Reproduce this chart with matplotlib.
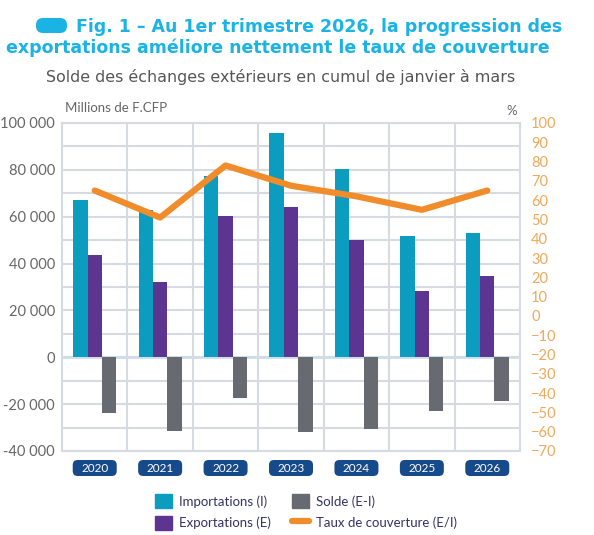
import numpy as np
import matplotlib.pyplot as plt
from matplotlib.patches import Patch, FancyBboxPatch
from matplotlib.lines import Line2D

plt.rcParams['font.family'] = ['Lato', 'DejaVu Sans']

# --- données ---
annees = ['2020', '2021', '2022', '2023', '2024', '2025', '2026']
importations = [67000, 62700, 77300, 95800, 80300, 51600, 53200]
exportations = [43500, 32000, 60200, 64200, 49900, 28500, 34500]
solde = [-23800, -31500, -17300, -32000, -30800, -22800, -18800]
taux = [65, 51, 78, 67.5, 62, 55, 65]

c_imp = '#0c9cbf'
c_exp = '#5c3590'
c_sol = '#676a71'
c_taux = '#f08c2a'
c_grid = '#d5dbe0'
c_titre = '#1bb3e3'
c_txt = '#666666'

fig = plt.figure(figsize=(5.94, 5.35), dpi=100)
ax = fig.add_axes([62/594, 1 - 451/535, 458/594, 328/535])

x = np.arange(len(annees))
w = 0.22
ax.bar(x - w, importations, w, color=c_imp, zorder=3)
ax.bar(x, exportations, w, color=c_exp, zorder=3)
ax.bar(x + w, solde, w, color=c_sol, zorder=3)

ax.set_xlim(-0.5, len(annees) - 0.5)
ax.set_ylim(-40000, 100000)
ax.set_yticks(np.arange(-40000, 100001, 20000))
ax.set_yticklabels([f'{v:,}'.replace(',', ' ') for v in range(-40000, 100001, 20000)])
ax.set_yticks(np.arange(-40000, 100001, 10000), minor=True)
ax.grid(True, axis='y', which='both', color=c_grid, lw=1.5, zorder=0)
for b in np.arange(0.5, len(annees) - 0.5, 1):
    ax.axvline(b, color=c_grid, lw=1.5, zorder=0)
ax.axhline(0, color='#cfdde6', lw=2, zorder=2)
ax.set_xticks([])
ax.tick_params(axis='y', which='both', length=0, labelsize=10.5, labelcolor=c_txt, pad=5)
for s in ax.spines.values():
    s.set_color(c_grid)
    s.set_linewidth(1.5)

ax2 = ax.twinx()
ax2.plot(x, taux, color=c_taux, lw=4.5, solid_capstyle='round', solid_joinstyle='round', zorder=4)
ax2.set_ylim(-70, 100)
ax2.set_yticks(np.arange(-70, 101, 10))
ax2.tick_params(axis='y', length=0, labelsize=10.5, labelcolor='#f0a85a', pad=8)
for s in ax2.spines.values():
    s.set_visible(False)

# années dans des étiquettes arrondies (en pixels)
H = fig.bbox.height
for i, a in enumerate(annees):
    px, _ = ax.transData.transform((i, 0))
    cy = H - 468
    fig.patches.append(FancyBboxPatch((px - 22, cy - 8), 44, 16,
                                      boxstyle='round,pad=0,rounding_size=5',
                                      transform=None, fc='#174a8b', ec='none'))
    fig.text(px / fig.bbox.width, cy / H, a, ha='center', va='center',
             fontsize=8.5, color='white')

# titres
tfont = dict(family='DejaVu Sans', fontweight='bold', color=c_titre, fontsize=12.5)
fig.text(319/594, 1 - 27/535, 'Fig. 1 – Au 1er trimestre 2026, la progression des',
         ha='center', va='center', **tfont)
fig.text(278/594, 1 - 48/535, 'exportations améliore nettement le taux de couverture',
         ha='center', va='center', **tfont)
fig.patches.append(FancyBboxPatch((36, H - 33), 31, 15,
                                  boxstyle='round,pad=0,rounding_size=7',
                                  transform=None, fc=c_titre, ec='none'))
fig.text(281/594, 1 - 77/535, 'Solde des échanges extérieurs en cumul de janvier à mars',
         ha='center', va='center', fontsize=11.4, family='DejaVu Sans', color='#555555')
fig.text(65/594, 1 - 108/535, 'Millions de F.CFP', ha='left', va='center',
         fontsize=9.5, color=c_txt)
fig.text(512/594, 1 - 111/535, '%', ha='center', va='center', fontsize=9.5, color=c_txt)

# légende
handles = [Patch(color=c_imp), Patch(color=c_exp), Patch(color=c_sol),
           Line2D([0], [0], color=c_taux, lw=4.5, solid_capstyle='round')]
labels = ['Importations (I)', 'Exportations (E)', 'Solde (E-I)', 'Taux de couverture (E/I)']
fig.legend(handles, labels, ncol=2, loc='center', bbox_to_anchor=(0.515, 1 - 512/535),
           frameon=False, fontsize=9.5, handlelength=1.3, handleheight=1.3,
           columnspacing=1.6, labelspacing=0.55, handletextpad=0.5, labelcolor='#333366')

fig.savefig('out.png', dpi=100)
